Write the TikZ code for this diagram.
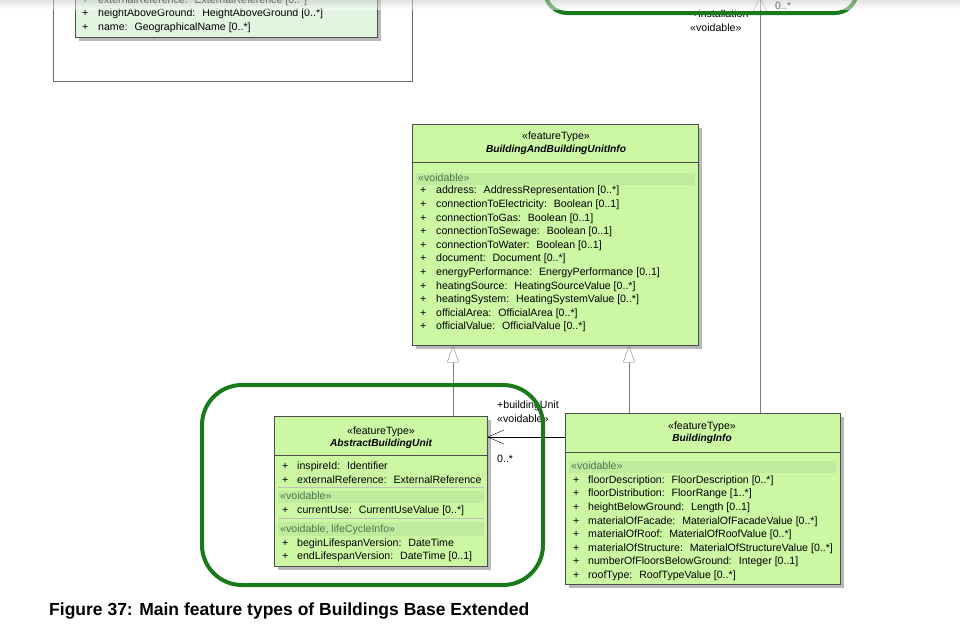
\documentclass[tikz,border=0pt]{standalone}
\usepackage{fontspec}
\setmainfont{Liberation Sans}
\usepackage{tikz}
\usetikzlibrary{positioning, arrows.meta, shadows}

\definecolor{clsfill}{RGB}{204,247,163}
\definecolor{palefill}{RGB}{226,245,224}
\definecolor{bandfill}{RGB}{192,234,156}
\definecolor{grpgreen}{RGB}{24,122,24}
\definecolor{secgreen}{RGB}{80,116,80}

\begin{document}
\begin{tikzpicture}[x=1pt, y=-1pt,
    cls/.style={draw=black!70, fill=clsfill, anchor=north west, inner sep=0pt,
        drop shadow={shadow xshift=4pt, shadow yshift=-4pt, opacity=1, fill=black!28}},
    txt/.style={inner sep=0pt, font=\fontsize{10.6}{12}\selectfont, text height=7.5pt, text depth=2pt},
    attr/.style={txt, anchor=west},
    sec/.style={attr, text=secgreen},
    band/.style={fill=bandfill},
    sep/.style={draw=black!70},
    grp/.style={draw=grpgreen, line width=4pt, rounded corners=40pt},
    gen/.style={draw=black!50, -{Triangle[open, length=17pt, width=12pt]}},
    assoc/.style={-{Straight Barb[length=16pt, width=14pt]}}]
    \useasboundingbox (0,0) rectangle (960,632);

    % package box and cut class at the top left
    \draw[black!60] (53,-20) rectangle (412,81);
    \path[draw=black!70, fill=palefill,
        drop shadow={shadow xshift=4pt, shadow yshift=-4pt, opacity=1, fill=black!28}]
        (75,-30) rectangle (377,37);
    \foreach \t [count=\i] in {externalReference:~ ExternalReference [0..*],
            heightAboveGround:~ HeightAboveGround [0..*], name:~ GeographicalName [0..*]} {
        \node[attr] (top-p\i) at (82,{-13.2+\i*13.5}) {+};
        \node[attr] (top-a\i) at (98,{-13.2+\i*13.5}) {\t};
    }

    % BuildingAndBuildingUnitInfo
    \node[cls, minimum width=286pt, minimum height=221pt] (info) at (412,124) {};
    \node[txt] (info-st) at (556,137) {«featureType»};
    \node[txt, font=\fontsize{10.2}{12}\selectfont\bfseries\itshape] (info-nm) at (556,150) {BuildingAndBuildingUnitInfo};
    \draw[sep] (412,162) -- (698,162);
    \fill[band] (416,173) rectangle (695,185);
    \node[sec] (info-v) at (418,179) {«voidable»};
    \foreach \t [count=\i] in {address:~ AddressRepresentation [0..*],
            connectionToElectricity:~ Boolean [0..1], connectionToGas:~ Boolean [0..1],
            connectionToSewage:~ Boolean [0..1], connectionToWater:~ Boolean [0..1],
            document:~ Document [0..*], energyPerformance:~ EnergyPerformance [0..1],
            heatingSource:~ HeatingSourceValue [0..*], heatingSystem:~ HeatingSystemValue [0..*],
            officialArea:~ OfficialArea [0..*], officialValue:~ OfficialValue [0..*]} {
        \node[attr] (info-p\i) at (420,{177.5+\i*13.6}) {+};
        \node[attr] (info-a\i) at (436,{177.5+\i*13.6}) {\t};
    }

    % AbstractBuildingUnit
    \node[cls, minimum width=213pt, minimum height=150pt] (abu) at (274,416) {};
    \node[txt] (abu-st) at (381,432) {«featureType»};
    \node[txt, font=\fontsize{10.2}{12}\selectfont\bfseries\itshape] (abu-nm) at (381,444) {AbstractBuildingUnit};
    \draw[sep] (274,455) -- (487,455);
    \node[attr] (abu-p1) at (282,467) {+};
    \node[attr] (abu-a1) at (297,467) {inspireId:~ Identifier};
    \node[attr] (abu-p2) at (282,481) {+};
    \node[attr] (abu-a2) at (297,481) {externalReference:~ ExternalReference};
    \draw[black!25] (278,487) -- (484,487);
    \fill[band] (278,491) rectangle (484,503);
    \node[sec] (abu-v1) at (280,497) {«voidable»};
    \node[attr] (abu-p3) at (282,511) {+};
    \node[attr] (abu-a3) at (297,511) {currentUse:~ CurrentUseValue [0..*]};
    \draw[black!25] (278,518) -- (484,518);
    \fill[band] (278,522) rectangle (484,536);
    \node[sec] (abu-v2) at (280,530) {«voidable, lifeCycleInfo»};
    \node[attr] (abu-p4) at (282,544) {+};
    \node[attr] (abu-a4) at (297,544) {beginLifespanVersion:~ DateTime};
    \node[attr] (abu-p5) at (282,557) {+};
    \node[attr] (abu-a5) at (297,557) {endLifespanVersion:~ DateTime [0..1]};

    % BuildingInfo
    \node[cls, minimum width=275pt, minimum height=171pt] (bi) at (565,413) {};
    \node[txt] (bi-st) at (702,427) {«featureType»};
    \node[txt, font=\fontsize{10.2}{12}\selectfont\bfseries\itshape] (bi-nm) at (702,439) {BuildingInfo};
    \draw[sep] (565,452) -- (840,452);
    \fill[band] (569,461) rectangle (836,473);
    \node[sec] (bi-v) at (571,467) {«voidable»};
    \foreach \t [count=\i] in {floorDescription:~ FloorDescription [0..*],
            floorDistribution:~ FloorRange [1..*], heightBelowGround:~ Length [0..1],
            materialOfFacade:~ MaterialOfFacadeValue [0..*], materialOfRoof:~ MaterialOfRoofValue [0..*],
            materialOfStructure:~ MaterialOfStructureValue [0..*],
            numberOfFloorsBelowGround:~ Integer [0..1], roofType:~ RoofTypeValue [0..*]} {
        \node[attr] (bi-p\i) at (573,{467+\i*13.6}) {+};
        \node[attr] (bi-a\i) at (588,{467+\i*13.6}) {\t};
    }

    % connectors
    \coordinate (gl) at (453,0);
    \coordinate (gr) at (629,0);
    \coordinate (au) at (0,437);
    \coordinate (inst) at (760,-4);
    \draw[gen] (gl |- abu.north) -- (gl |- info.south);
    \draw[gen] (gr |- bi.north) -- (gr |- info.south);
    \draw[assoc] (bi.west |- au) -- (abu.east |- au);
    \draw[assoc, black!50] (inst |- bi.north) -- (inst);

    \node[attr] (bu-role) at (497,406) {+buildingUnit};
    \node[attr] (bu-st) at (497,420) {«voidable»};
    \node[attr] (bu-mult) at (497,460) {0..*};
    \node[attr] (in-role) at (692,15) {+installation};
    \node[attr] (in-st) at (690,29) {«voidable»};
    \node[attr] (in-mult) at (775,7) {0..*};

    % highlight frames
    \draw[grp, rounded corners=22pt] (545,-60) rectangle (857,13);
    \draw[grp] (202,385) rectangle (543,585);

    % page edge shade
    \shade[top color=black!22, bottom color=white, opacity=0.5] (0,0) rectangle (960,9);

    \node[anchor=west, inner sep=0pt, font=\fontsize{17.5}{20}\selectfont\bfseries] (cap) at (49,611)
        {Figure 37: Main feature types of Buildings Base Extended};
\end{tikzpicture}
\end{document}
